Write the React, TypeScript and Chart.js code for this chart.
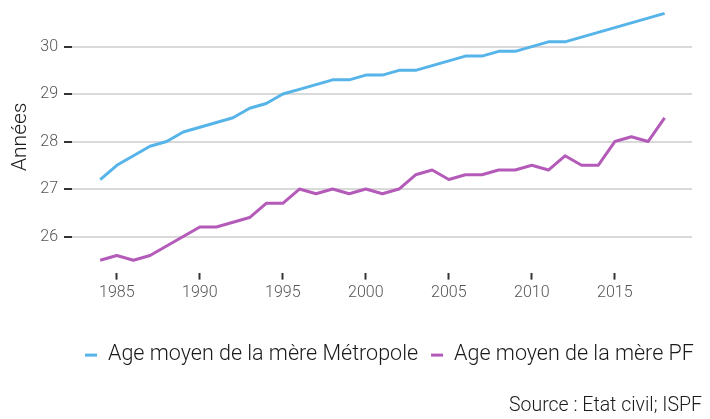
import { useEffect, useRef } from "react";
import { Chart, registerables } from "chart.js";

Chart.register(...registerables);

const years = [
  1984, 1985, 1986, 1987, 1988, 1989, 1990, 1991, 1992, 1993, 1994, 1995,
  1996, 1997, 1998, 1999, 2000, 2001, 2002, 2003, 2004, 2005, 2006, 2007,
  2008, 2009, 2010, 2011, 2012, 2013, 2014, 2015, 2016, 2017, 2018,
];
const metropole = [
  27.2, 27.5, 27.7, 27.9, 28.0, 28.2, 28.3, 28.4, 28.5, 28.7, 28.8, 29.0,
  29.1, 29.2, 29.3, 29.3, 29.4, 29.4, 29.5, 29.5, 29.6, 29.7, 29.8, 29.8,
  29.9, 29.9, 30.0, 30.1, 30.1, 30.2, 30.3, 30.4, 30.5, 30.6, 30.7,
];
const pf = [
  25.5, 25.6, 25.5, 25.6, 25.8, 26.0, 26.2, 26.2, 26.3, 26.4, 26.7, 26.7,
  27.0, 26.9, 27.0, 26.9, 27.0, 26.9, 27.0, 27.3, 27.4, 27.2, 27.3, 27.3,
  27.4, 27.4, 27.5, 27.4, 27.7, 27.5, 27.5, 28.0, 28.1, 28.0, 28.5,
];
const xTicks = [1985, 1990, 1995, 2000, 2005, 2010, 2015];
const yTicks = [26, 27, 28, 29, 30];
const seriesLabels = [
  "Age moyen de la mère Métropole",
  "Age moyen de la mère PF",
];
const seriesColors = ["#56B4E9", "#B45AB9"];
const yTitle = "Années";
const sourceText = "Source : Etat civil; ISPF";

const FONT = "Roboto, 'Noto Sans', sans-serif";

const legendPlugin = {
  id: "customLegend",
  afterDraw(chart: any) {
    const ctx = chart.ctx as CanvasRenderingContext2D;
    const area = chart.chartArea;
    ctx.save();
    ctx.font = `300 21.5px ${FONT}`;
    ctx.textBaseline = "middle";
    const dashW = 12;
    const gapText = 11;
    const gapItems = 13;
    const widths = seriesLabels.map((l) => ctx.measureText(l).width);
    let x = 85;
    const y = area.bottom + 82.5;
    seriesLabels.forEach((label, i) => {
      ctx.fillStyle = seriesColors[i];
      ctx.fillRect(x, y - 1.5, dashW, 3);
      x += dashW + gapText;
      ctx.fillStyle = "#1a1a1a";
      ctx.textAlign = "left";
      ctx.fillText(label, x, y);
      x += widths[i] + gapItems;
    });
    ctx.font = `300 19.5px ${FONT}`;
    ctx.textAlign = "right";
    ctx.fillStyle = "#1a1a1a";
    ctx.fillText(sourceText, 702, chart.height - 13);
    ctx.restore();
  },
};

export default function App() {
  const ref = useRef<HTMLCanvasElement | null>(null);

  useEffect(() => {
    if (!ref.current) return;
    const chart = new Chart(ref.current, {
      type: "line",
      data: {
        datasets: [metropole, pf].map((vals, i) => ({
          label: seriesLabels[i],
          data: years.map((yr, j) => ({ x: yr, y: vals[j] })),
          borderColor: seriesColors[i],
          backgroundColor: seriesColors[i],
          borderWidth: 3,
          pointRadius: 0,
          tension: 0,
          borderJoinStyle: "round" as const,
        })),
      },
      options: {
        responsive: false,
        animation: false,
        devicePixelRatio: 1,
        layout: { padding: { top: 1, right: 18, bottom: 116.4, left: 0 } },
        plugins: {
          legend: { display: false },
          tooltip: { enabled: false },
        },
        scales: {
          x: {
            type: "linear",
            min: 1982.3,
            max: 2019.65,
            afterFit: (s: any) => {
              s.height = 30;
              s.paddingLeft = 0;
              s.paddingRight = 0;
            },
            afterBuildTicks: (s: any) => {
              s.ticks = xTicks.map((v) => ({ value: v }));
            },
            border: { display: false },
            grid: {
              drawOnChartArea: false,
              drawTicks: true,
              tickLength: 7,
              tickWidth: 2,
              tickColor: "#333333",
            },
            ticks: {
              padding: 4,
              color: "#555555",
              font: { family: FONT, size: 16, weight: 300 },
              callback: (v: any) => String(v),
              maxRotation: 0,
            },
          },
          y: {
            type: "linear",
            min: 25.24,
            max: 30.96,
            afterFit: (s: any) => {
              s.width = 72;
              s.paddingTop = 0;
              s.paddingBottom = 0;
            },
            afterBuildTicks: (s: any) => {
              s.ticks = yTicks.map((v) => ({ value: v }));
            },
            border: { display: false },
            grid: {
              color: "#d9d9d9",
              lineWidth: 2,
              drawTicks: true,
              tickLength: 8,
              tickWidth: 2,
              tickColor: "#333333",
            },
            ticks: {
              padding: 6,
              color: "#555555",
              font: { family: FONT, size: 16, weight: 300 },
              callback: (v: any) => String(v),
            },
            title: {
              display: true,
              text: yTitle,
              color: "#1a1a1a",
              font: { family: FONT, size: 21, weight: 300 },
              padding: { top: 8, bottom: 0 },
            },
          },
        },
      },
      plugins: [legendPlugin],
    });
    return () => chart.destroy();
  }, []);

  return (
    <div style={{ position: "absolute", left: 0, top: 0, width: 710, height: 419, background: "#fff" }}>
      <canvas ref={ref} width={710} height={419} style={{ display: "block" }} />
    </div>
  );
}
